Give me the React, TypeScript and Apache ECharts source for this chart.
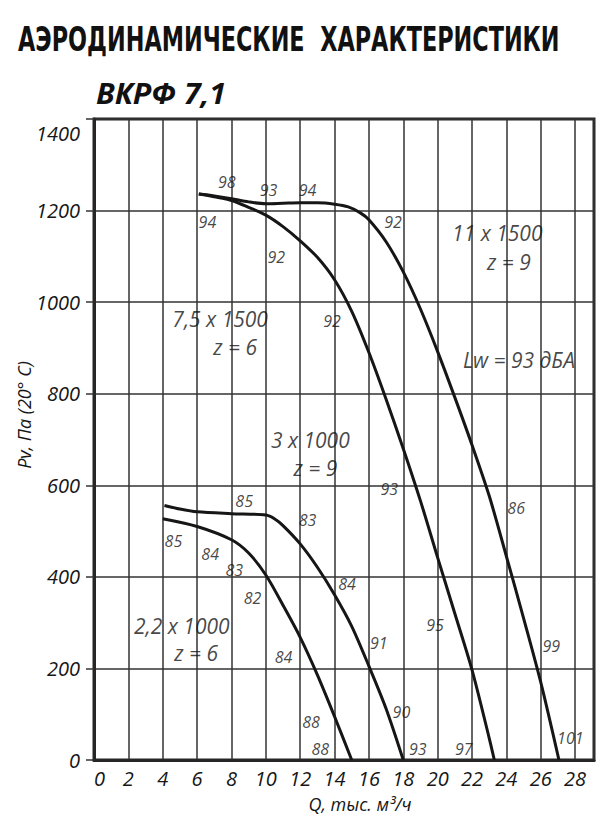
import React, { useEffect, useRef } from "react";
import * as echarts from "echarts";

// Axis
const qMin = 0;
const qMax = 29.1;
const qStep = 2;
const pMin = 0;
const pMax = 1400;
const pStep = 200;

// Curves: Q (thousand m3/h) and Pv (Pa)
const curve22Q = [4, 6, 8, 9, 10, 11, 12, 13, 14, 15];
const curve22P = [527, 510, 481, 452, 404, 338, 268, 186, 95, 0];

const curve3Q = [4.1, 5, 6, 8, 10, 10.5, 11, 12, 13, 14, 15, 16, 17, 18];
const curve3P = [556, 548, 542, 538, 535, 527, 512, 472, 421, 361, 292, 205, 112, 0];

const curve75Q = [6.1, 7, 8, 9, 10, 11, 12, 13, 14, 15, 16, 17, 18, 19, 20, 21, 22, 23, 23.3];
const curve75P = [1236, 1230, 1222, 1207, 1190, 1165, 1134, 1098, 1049, 980, 890, 788, 680, 566, 442, 320, 197, 48, 0];

const curve11Q = [6.1, 7, 8, 9, 10, 11, 12, 13, 14, 14.8, 15.5, 16, 17, 18, 19, 20, 21, 22, 23, 24, 25, 26, 27.06];
const curve11P = [1236, 1232, 1226, 1219, 1215, 1216, 1217, 1217, 1214, 1208, 1195, 1180, 1132, 1066, 985, 892, 792, 688, 577, 445, 310, 170, 0];

// Small efficiency/noise labels along the curves
const smallText = ["98", "93", "94", "94", "92", "92", "92", "93", "86", "85", "85", "84", "83", "82", "84", "83", "84", "91", "90", "88", "88", "93", "97", "95", "99", "101"];
const smallQ = [7.73, 10.16, 12.43, 6.6, 10.61, 17.4, 13.85, 17.19, 24.57, 8.74, 4.62, 6.76, 8.16, 9.23, 11.03, 12.43, 14.73, 16.57, 17.89, 12.63, 13.17, 18.84, 21.52, 19.85, 26.61, 27.72];
const smallP = [1263, 1246, 1244, 1174, 1098, 1174, 959, 591, 551, 565, 478, 449, 416, 354, 226, 524, 385, 255, 104, 82, 23, 23, 23, 294, 248, 47];

// Large model labels
const bigText = ["7,5 x 1500", "z = 6", "11 x 1500", "z = 9", "Lw = 93 дБА", "3 x 1000", "z = 9", "2,2 x 1000", "z = 6"];
const bigQ = [7.34, 8.22, 23.47, 24.15, 24.73, 12.59, 12.88, 5.11, 5.94];
const bigP = [963, 901, 1151, 1088, 874, 698, 637, 293, 233];

const titleText = "АЭРОДИНАМИЧЕСКИЕ  ХАРАКТЕРИСТИКИ";
const subtitleText = "ВКРФ 7,1";
const xName = "Q, тыс. м³/ч";
const yName = "Pv, Па (20° С)";

const FONT = "'Open Sans', 'Noto Sans', sans-serif";
const TITLE_FONT = "'DejaVu Sans Condensed', 'DejaVu Sans', sans-serif";
const INK = "#161616";

function zip(q: number[], p: number[]) {
  return q.map((v, i) => [v, p[i]]);
}

function measure(font: string, text: string) {
  const c = document.createElement("canvas").getContext("2d");
  if (!c) return 0;
  c.font = font;
  return c.measureText(text).width;
}

export default function App() {
  const ref = useRef<HTMLDivElement>(null);

  useEffect(() => {
    document.body.style.margin = "0";
    if (!ref.current) return;
    const chart = echarts.init(ref.current, undefined, { renderer: "svg" });

    const titleSize = 33;
    const titleW = measure(`bold ${titleSize}px ${TITLE_FONT}`, titleText) || 600;
    const titleScale = 542 / titleW;

    const subSize = 29;
    const subW = measure(`italic bold ${subSize}px ${FONT}`, subtitleText) || 130;
    const subScale = 130 / subW;

    const curveSeries = [
      zip(curve22Q, curve22P),
      zip(curve3Q, curve3P),
      zip(curve75Q, curve75P),
      zip(curve11Q, curve11P),
    ].map((data) => ({
      type: "line",
      data,
      smooth: 0.3,
      showSymbol: false,
      symbol: "none",
      lineStyle: { color: INK, width: 3 },
      z: 5,
    }));

    const smallData = smallText.map((t, i) => ({ name: t, value: [smallQ[i], smallP[i]] }));
    const bigData = bigText.map((t, i) => ({ name: t, value: [bigQ[i], bigP[i]] }));

    chart.setOption({
      animation: false,
      backgroundColor: "#ffffff",
      grid: {
        left: 94,
        right: 10,
        top: 119,
        bottom: 68,
        show: true,
        borderColor: "#262626",
        borderWidth: 3,
        containLabel: false,
      },
      xAxis: {
        type: "value",
        min: qMin,
        max: qMax,
        interval: qStep,
        axisLine: { show: true, lineStyle: { color: "#262626", width: 3 } },
        axisTick: { show: false },
        splitLine: { show: true, lineStyle: { color: "#333333", width: 1.5 } },
        axisLabel: {
          fontFamily: FONT,
          fontStyle: "italic",
          fontSize: 20,
          color: INK,
          margin: 8,
          showMaxLabel: false,
          alignMinLabel: "left",
        },
      },
      yAxis: {
        type: "value",
        min: pMin,
        max: pMax,
        interval: pStep,
        axisLine: { show: true, lineStyle: { color: "#262626", width: 3 } },
        axisTick: { show: true, inside: false, length: 8, lineStyle: { color: "#333333", width: 1.5 } },
        splitLine: { show: true, lineStyle: { color: "#333333", width: 1.5 } },
        axisLabel: {
          fontFamily: FONT,
          fontStyle: "italic",
          fontSize: 20,
          color: INK,
          margin: 14,
          formatter: (v: number) => (v === pMax ? "{top|" + v + "}" : String(v)),
          rich: {
            top: { fontFamily: FONT, fontStyle: "italic", fontSize: 20, color: INK, padding: [28, 0, 0, 0] },
          },
        },
      },
      graphic: [
        {
          type: "text",
          x: 18,
          y: 40,
          scaleX: titleScale,
          style: {
            text: titleText,
            fontFamily: TITLE_FONT,
            fontWeight: "bold",
            fontSize: titleSize,
            fill: "#111111",
            verticalAlign: "middle",
            align: "left",
          },
        },
        {
          type: "text",
          x: 96,
          y: 93,
          scaleX: subScale,
          style: {
            text: subtitleText,
            fontFamily: FONT,
            fontWeight: "bold",
            fontStyle: "italic",
            fontSize: subSize,
            fill: "#111111",
            verticalAlign: "middle",
            align: "left",
          },
        },
        {
          type: "text",
          x: 24,
          y: 415,
          rotation: Math.PI / 2,
          style: {
            text: yName,
            fontFamily: FONT,
            fontStyle: "italic",
            fontSize: 18,
            fill: INK,
            verticalAlign: "middle",
            align: "center",
          },
        },
        {
          type: "text",
          x: 360,
          y: 804,
          style: {
            text: xName,
            fontFamily: FONT,
            fontStyle: "italic",
            fontSize: 18,
            fill: INK,
            verticalAlign: "middle",
            align: "center",
          },
        },
      ],
      series: [
        ...curveSeries,
        {
          type: "scatter",
          data: smallData,
          symbolSize: 0,
          z: 6,
          label: {
            show: true,
            position: "inside",
            formatter: (p: any) => p.name,
            fontFamily: FONT,
            fontStyle: "italic",
            fontSize: 16,
            color: INK,
          },
        },
        {
          type: "scatter",
          data: bigData,
          symbolSize: 0,
          z: 6,
          label: {
            show: true,
            position: "inside",
            formatter: (p: any) => p.name,
            fontFamily: FONT,
            fontStyle: "italic",
            fontSize: 21,
            color: INK,
          },
        },
      ],
    });

    return () => chart.dispose();
  }, []);

  return <div ref={ref} style={{ width: 604, height: 828 }} />;
}
